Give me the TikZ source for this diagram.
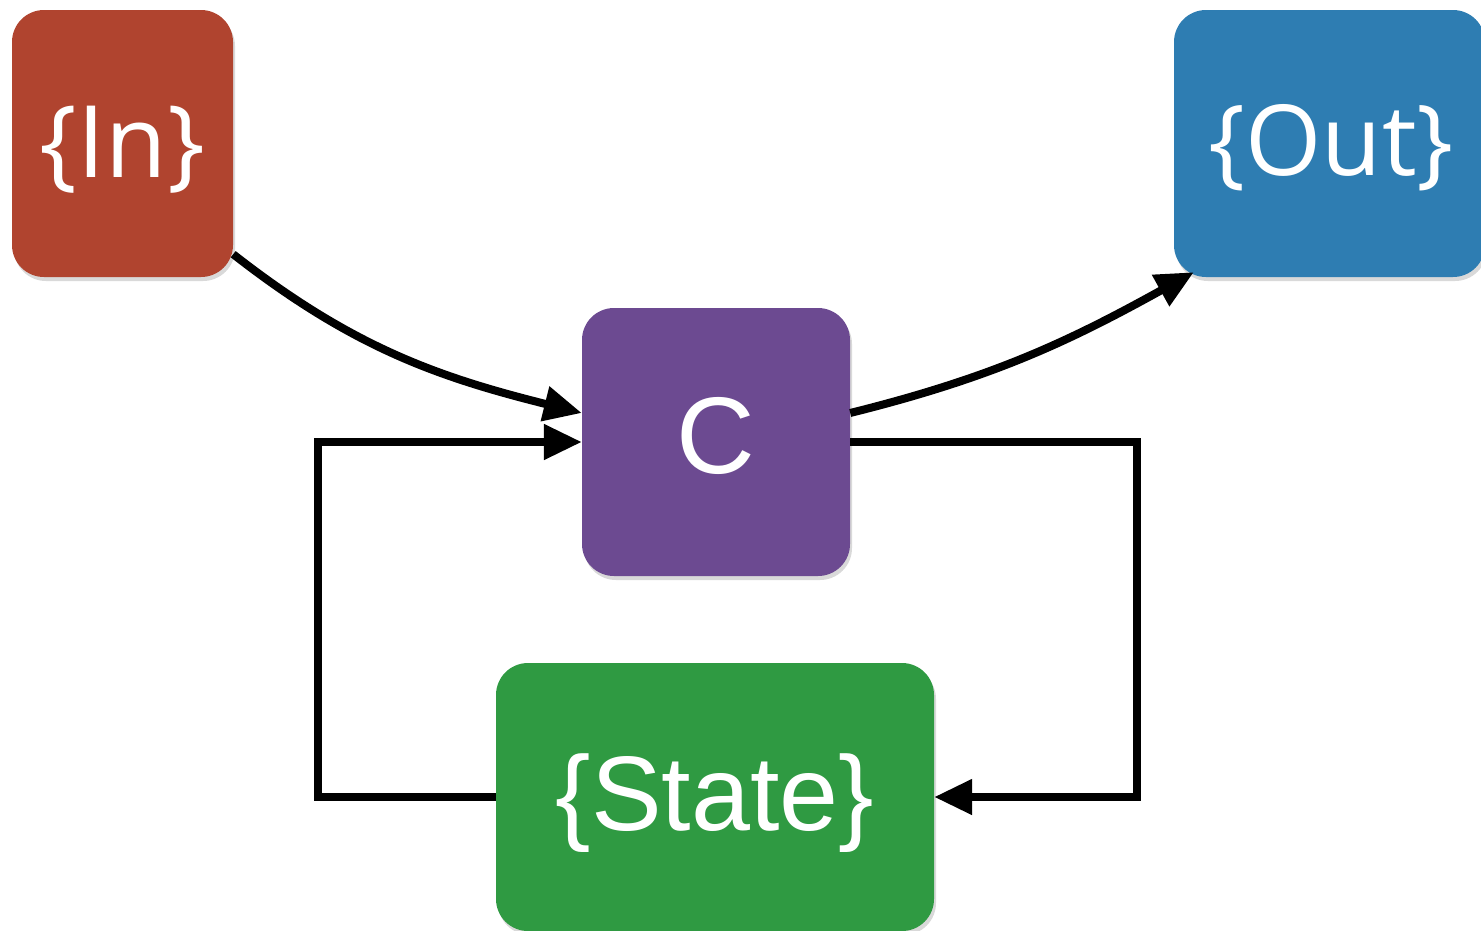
\documentclass[tikz,border=0pt]{standalone}
\usepackage{fontspec}
\setmainfont{Liberation Sans}
\newfontfamily\humanist{Open Sans}
\usetikzlibrary{arrows.meta,shadows,calc}
\definecolor{inred}{HTML}{B0442F}
\definecolor{outblue}{HTML}{2E7DB2}
\definecolor{cpurple}{HTML}{6C4A91}
\definecolor{stgreen}{HTML}{2F9A42}
\tikzset{
  block/.style={rectangle, rounded corners=32pt, inner sep=0pt,
    drop shadow={opacity=0.3, shadow xshift=2pt, shadow yshift=-4pt}},
  label text/.style={text=white, inner sep=0pt},
  wire/.style={line width=8pt, -{Triangle[length=38pt,width=34pt]}},
}
\begin{document}
\begin{tikzpicture}[x=1pt,y=-1pt]
  \useasboundingbox (0,0) rectangle (1481,930);
  % blocks
  \node[block, fill=inred, minimum width=221pt, minimum height=267pt] (In) at (122.5,143.5) {};
  \node[label text, font=\humanist\fontsize{100}{100}\selectfont] (Inlabel) at (122.5,150) {\{In\}};
  \node[block, fill=outblue, minimum width=311pt, minimum height=267pt] (Out) at (1329.5,143.5) {};
  \node[label text, font=\humanist\fontsize{98}{98}\selectfont] (Outlabel) at (1331,148) {\{Out\}};
  \node[block, fill=cpurple, minimum width=268pt, minimum height=268pt] (C) at (716,442) {};
  \node[label text, font=\fontsize{109}{109}\selectfont] (Clabel) at (716,436) {C};
  \node[block, fill=stgreen, minimum width=438pt, minimum height=268pt] (State) at (715,797) {};
  \node[label text, font=\fontsize{106}{106}\selectfont] (Slabel) at (715,803) {\{State\}};
  % connectors
  \draw[wire] (In.-45) to[out=-38, in=166] ($(C.west)+(0,-29)$);
  \draw[wire] ($(C.east)+(0,-29)$) to[out=14, in=209] ($(Out.south west)+(20,-5)$);
  \draw[wire, line join=miter] (C.east) -- ++(287,0) |- (State.east);
  \draw[wire, line join=miter] (State.west) -- ++(-178,0) |- (C.west);
\end{tikzpicture}
\end{document}
